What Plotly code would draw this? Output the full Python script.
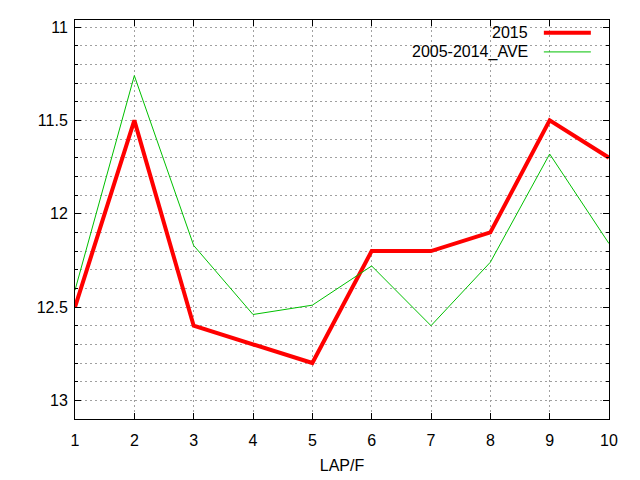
import plotly.graph_objects as go

laps = [1, 2, 3, 4, 5, 6, 7, 8, 9, 10]
y2015 = [12.5, 11.5, 12.6, 12.7, 12.8, 12.2, 12.2, 12.1, 11.5, 11.7]
y_ave = [12.41, 11.26, 12.17, 12.54, 12.49, 12.28, 12.60, 12.26, 11.68, 12.16]
legend_names = ["2015", "2005-2014_AVE"]

RED = "#ff0000"
GREEN = "#00c000"
GRID = "#a0a0a0"
DASH = "2px,3px"
FONT = "Liberation Sans"
SIZE = 16

fig = go.Figure()
fig.add_trace(go.Scatter(x=laps, y=y2015, mode="lines", name=legend_names[0],
                         line=dict(color=RED, width=4)))
fig.add_trace(go.Scatter(x=laps, y=y_ave, mode="lines", name=legend_names[1],
                         line=dict(color=GREEN, width=1)))

# gnuplot style legend: label on the left, line sample on the right
for i, (name, color, width) in enumerate(zip(legend_names, [RED, GREEN], [4, 1])):
    ypos = 0.968 - i * 0.048
    fig.add_annotation(text=name, xref="paper", yref="paper", x=0.852, y=ypos,
                       xanchor="right", yanchor="middle", showarrow=False,
                       font=dict(family=FONT, size=SIZE, color="#000000"))
    fig.add_shape(type="line", xref="paper", yref="paper", x0=0.878, x1=0.966,
                  y0=ypos, y1=ypos, line=dict(color=color, width=width))

# the page puts the figure 8px in from the top left corner, margins allow for it
fig.update_layout(
    width=640,
    height=480,
    showlegend=False,
    plot_bgcolor="white",
    paper_bgcolor="white",
    margin=dict(l=67, r=39, t=12, b=69),
    font=dict(family=FONT, size=SIZE, color="#000000"),
)
fig.update_xaxes(
    range=[1, 10],
    dtick=1,
    title=dict(text="LAP/F", standoff=11, font=dict(family=FONT, size=SIZE)),
    showline=True, linecolor="black", linewidth=1, mirror="ticks",
    ticks="inside", ticklen=6, tickcolor="black", ticklabelstandoff=7,
    showgrid=True, gridcolor=GRID, griddash=DASH, gridwidth=1,
    zeroline=False,
)
fig.update_yaxes(
    range=[13.1, 10.962],
    tick0=11, dtick=0.5,
    showline=True, linecolor="black", linewidth=1, mirror="ticks",
    ticks="inside", ticklen=6, tickcolor="black", ticklabelstandoff=3,
    showgrid=True, gridcolor=GRID, griddash=DASH, gridwidth=1,
    minor=dict(dtick=0.1, tick0=11, ticks="inside", ticklen=3, tickcolor="black",
               showgrid=True, gridcolor=GRID, griddash=DASH, gridwidth=1),
    zeroline=False,
)

fig.write_html("out.html")
